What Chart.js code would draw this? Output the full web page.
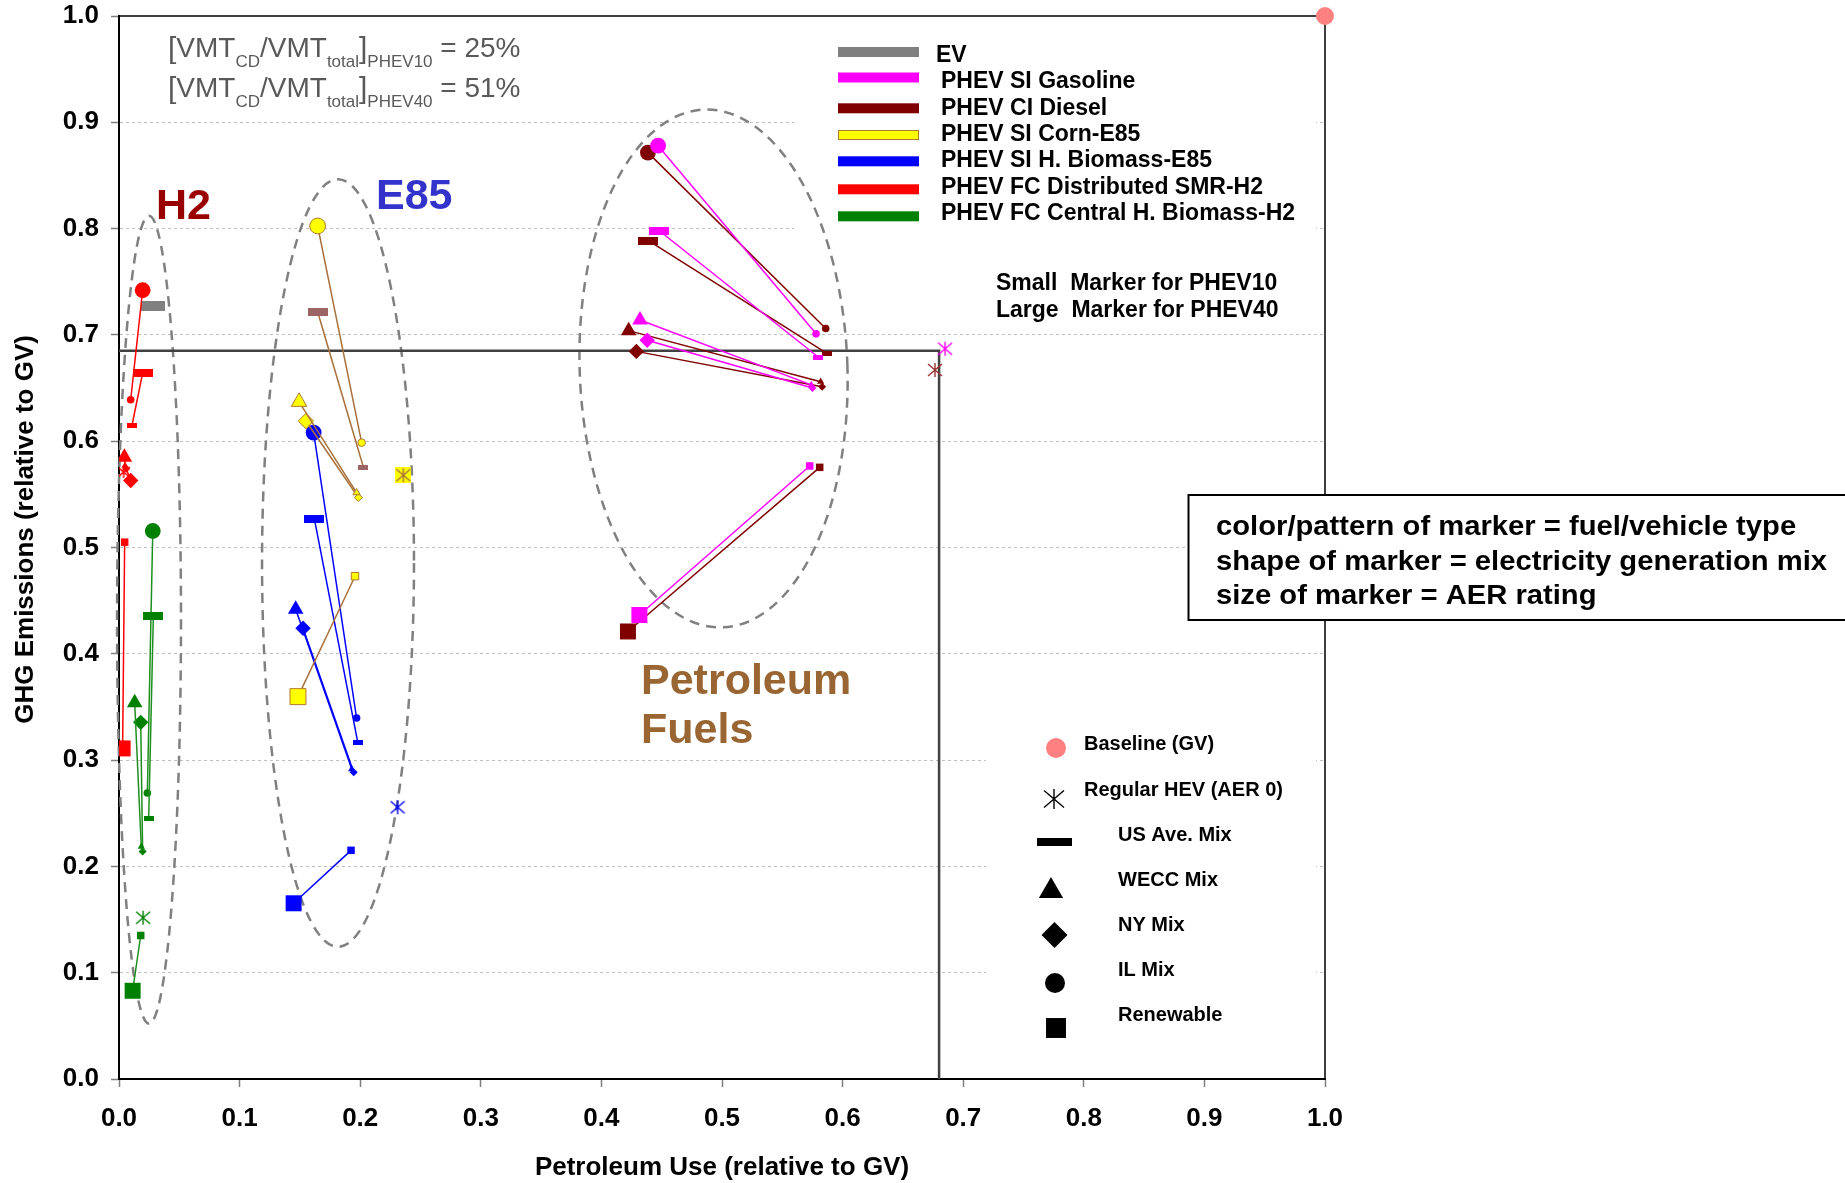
<!DOCTYPE html>
<html>
<head>
<meta charset="utf-8">
<script src="https://cdn.jsdelivr.net/npm/chart.js@4.4.1/dist/chart.umd.min.js"></script>
<style>
  html, body { margin: 0; padding: 0; background: #fff; }
  #wrap { width: 1845px; height: 1183px; position: relative; }
</style>
</head>
<body>
<div id="wrap"><canvas id="chart"></canvas></div>
<script>
const FONT = '"Liberation Sans", Arial, Helvetica, sans-serif';

// electricity generation mixes, same order in every array below
const mixes = ['US Ave. Mix', 'WECC Mix', 'NY Mix', 'IL Mix', 'Renewable'];

// petroleum use and GHG emissions (relative to GV); 40 = PHEV40 (large marker), 10 = PHEV10 (small marker)
const gasPet40 = [0.448, 0.432, 0.438, 0.447, 0.4315];
const gasGhg40 = [0.798, 0.714, 0.695, 0.878, 0.4365];
const gasPet10 = [0.580, 0.574, 0.575, 0.578, 0.5727];
const gasGhg10 = [0.679, 0.653, 0.650, 0.701, 0.5767];

const dslPet40 = [0.439, 0.4226, 0.429, 0.4386, 0.422];
const dslGhg40 = [0.7887, 0.704, 0.6845, 0.8715, 0.421];
const dslPet10 = [0.587, 0.5818, 0.583, 0.586, 0.581];
const dslGhg10 = [0.6827, 0.656, 0.6513, 0.706, 0.5754];

const cornPet40 = [0.1647, 0.1493, 0.155, 0.1647, 0.1484];
const cornGhg40 = [0.7218, 0.637, 0.619, 0.8025, 0.3597];
const cornPet10 = [0.2026, 0.197, 0.1985, 0.2012, 0.1957];
const cornGhg10 = [0.5757, 0.5516, 0.547, 0.5986, 0.473];

const bioPet40 = [0.162, 0.1465, 0.1526, 0.1614, 0.1448];
const bioGhg40 = [0.527, 0.442, 0.424, 0.608, 0.1653];
const bioPet10 = [0.198, 0.193, 0.1946, 0.197, 0.1924];
const bioGhg10 = [0.3167, 0.2916, 0.2885, 0.3396, 0.2151];

const smrPet40 = [0.0196, 0.0045, 0.0097, 0.0196, 0.003];
const smrGhg40 = [0.664, 0.585, 0.563, 0.742, 0.311];
const smrPet10 = [0.0108, 0.005, 0.006, 0.0097, 0.0047];
const smrGhg10 = [0.615, 0.577, 0.574, 0.639, 0.505];

const bh2Pet40 = [0.0285, 0.013, 0.018, 0.028, 0.0113];
const bh2Ghg40 = [0.436, 0.354, 0.3355, 0.5155, 0.083];
const bh2Pet10 = [0.0246, 0.0185, 0.0196, 0.0235, 0.018];
const bh2Ghg10 = [0.2446, 0.2186, 0.214, 0.269, 0.135];

// EV (US mix only is visible)
const evPet = [0.0285];
const evGhg = [0.727];

// regular HEV (AER 0): gasoline, diesel, corn-E85, biomass-E85, SMR-H2, biomass-H2
const hevPet = [0.685, 0.6766, 0.2358, 0.231, 0.0038, 0.020];
const hevGhg = [0.687, 0.667, 0.568, 0.2556, 0.571, 0.1517];

// baseline gasoline vehicle
const gvPet = [1.0];
const gvGhg = [1.0];

// gasoline HEV reference lines
const refPet = [0, 0.68, 0.68];
const refGhg = [0.685, 0.685, 0];

const ticks = [0, 0.1, 0.2, 0.3, 0.4, 0.5, 0.6, 0.7, 0.8, 0.9, 1.0];

// marker images
function bar(w, h, color) {
    const c = document.createElement('canvas');
    c.width = w; c.height = h;
    const g = c.getContext('2d');
    g.fillStyle = color;
    g.fillRect(0, 0, w, h);
    return c;
}
function asterisk(size, color, bg) {
    const c = document.createElement('canvas');
    c.width = size; c.height = size;
    const g = c.getContext('2d');
    if (bg) { g.fillStyle = bg; g.fillRect(0, 0, size, size); }
    g.strokeStyle = color;
    g.lineWidth = 1.4;
    const m = size / 2, r = size / 2 - 1;
    g.beginPath();
    g.moveTo(m, 1); g.lineTo(m, size - 1);
    g.moveTo(m - r, m - r * 0.85); g.lineTo(m + r, m + r * 0.85);
    g.moveTo(m - r, m + r * 0.85); g.lineTo(m + r, m - r * 0.85);
    g.stroke();
    return c;
}

const shapes = [null, 'triangle', 'rectRot', 'circle', 'rect'];
const bigR = [6, 9, 7.7, 7.9, 11.3];
const smallR = [3, 4.2, 4, 3.8, 5.3];

const fuels = [
    { name: 'PHEV SI Gasoline', pet40: gasPet40, ghg40: gasGhg40, pet10: gasPet10, ghg10: gasGhg10,
      fill: '#FF00FF', edge: '#FF00FF', line: '#FF00FF', bar: '#FF00FF', hev: asterisk(16, '#FF00FF') },
    { name: 'PHEV CI Diesel', pet40: dslPet40, ghg40: dslGhg40, pet10: dslPet10, ghg10: dslGhg10,
      fill: '#800000', edge: '#800000', line: '#800000', bar: '#800000', hev: asterisk(16, '#993333') },
    { name: 'PHEV SI Corn-E85', pet40: cornPet40, ghg40: cornGhg40, pet10: cornPet10, ghg10: cornGhg10,
      fill: '#FFFF00', edge: '#B07830', line: '#A8703A', bar: '#9C6464', hev: asterisk(16, '#A8703A', '#FFFF00') },
    { name: 'PHEV SI H. Biomass-E85', pet40: bioPet40, ghg40: bioGhg40, pet10: bioPet10, ghg10: bioGhg10,
      fill: '#0000FF', edge: '#0000FF', line: '#0000FF', bar: '#0000FF', hev: asterisk(16, '#0000FF') },
    { name: 'PHEV FC Distributed SMR-H2', pet40: smrPet40, ghg40: smrGhg40, pet10: smrPet10, ghg10: smrGhg10,
      fill: '#FF0000', edge: '#FF0000', line: '#FF0000', bar: '#FF0000', hev: asterisk(14, '#FF0000') },
    { name: 'PHEV FC Central H. Biomass-H2', pet40: bh2Pet40, ghg40: bh2Ghg40, pet10: bh2Pet10, ghg10: bh2Ghg10,
      fill: '#008000', edge: '#008000', line: '#1F8F1F', bar: '#008000', hev: asterisk(16, '#008000') }
];

const datasets = [];
datasets.push({
    label: 'HEV reference',
    data: refPet.map((p, i) => ({ x: p, y: refGhg[i] })),
    showLine: true, borderColor: '#404040', borderWidth: 2.5, pointRadius: 0, order: 5
});
fuels.forEach((f, k) => {
    mixes.forEach((m, i) => {
        datasets.push({
            label: f.name + ' ' + m,
            data: [{ x: f.pet40[i], y: f.ghg40[i] }, { x: f.pet10[i], y: f.ghg10[i] }],
            showLine: true,
            borderColor: f.line,
            borderWidth: 1.5,
            pointStyle: i === 0 ? [bar(20, 8, f.bar), bar(10, 5, f.bar)] : shapes[i],
            pointRadius: [bigR[i], smallR[i]],
            pointBackgroundColor: f.fill,
            pointBorderColor: f.edge,
            pointBorderWidth: f.edge === f.fill ? 0 : 1
        });
    });
    datasets.push({
        label: f.name + ' HEV',
        data: [{ x: hevPet[k], y: hevGhg[k] }],
        pointStyle: f.hev, pointRadius: 6
    });
});
datasets.push({
    label: 'EV',
    data: evPet.map((p, i) => ({ x: p, y: evGhg[i] })),
    pointStyle: bar(24, 10, '#808080'), pointRadius: 6
});
datasets.push({
    label: 'Baseline (GV)',
    data: gvPet.map((p, i) => ({ x: p, y: gvGhg[i] })),
    pointStyle: 'circle', pointRadius: 9, pointBackgroundColor: '#FF8080', pointBorderWidth: 0, clip: false
});

// dashed ellipses around the fuel groups (centre and radii in axis units)
const groupRings = [
    { x: 0.0249, y: 0.432, rx: 0.0265, ry: 0.380, rot: 0 },
    { x: 0.1816, y: 0.4854, rx: 0.063, ry: 0.361, rot: 0 },
    { x: 0.493, y: 0.6684, rx: 0.111, ry: 0.2437, rot: -2 }
];

const legendRows = [
    { label: 'EV', color: '#808080' },
    { label: 'PHEV SI Gasoline', color: '#FF00FF' },
    { label: 'PHEV CI Diesel', color: '#800000' },
    { label: 'PHEV SI Corn-E85', color: '#FFFF00', edge: '#B07830' },
    { label: 'PHEV SI H. Biomass-E85', color: '#0000FF' },
    { label: 'PHEV FC Distributed SMR-H2', color: '#FF0000' },
    { label: 'PHEV FC Central H. Biomass-H2', color: '#008000' }
];
const swatchY = [52, 77.5, 108.3, 135, 161.3, 189.3, 216.3];

function drawFormula(ctx, x, y, sub, value) {
    const parts = [['[', 30, 1], ['VMT', 28, 0], ['CD', 17, 10], ['/VMT', 28, 0], ['total', 17, 10],
                   [']', 30, 1], [sub, 17, 10], [' = ' + value, 28, 0]];
    let cx = x;
    parts.forEach(([t, size, dy]) => {
        ctx.font = size + 'px ' + FONT;
        ctx.fillText(t, cx, y + dy);
        cx += ctx.measureText(t).width;
    });
}

const decorations = {
    id: 'decorations',
    beforeDatasetsDraw(chart) {
        const { ctx, chartArea: a, scales: { x, y } } = chart;
        ctx.save();
        // legend panels cover the grid
        ctx.fillStyle = '#fff';
        ctx.fillRect(794, a.top + 2, 522, 312);
        ctx.fillRect(986, 700, 330, a.bottom - 702);
        // top and right frame
        ctx.strokeStyle = '#000';
        ctx.lineWidth = 1.5;
        ctx.beginPath();
        ctx.moveTo(a.left, a.top); ctx.lineTo(a.right, a.top); ctx.lineTo(a.right, a.bottom);
        ctx.stroke();
        // group rings
        ctx.setLineDash([10, 7]);
        ctx.strokeStyle = '#808080';
        ctx.lineWidth = 2.5;
        groupRings.forEach(g => {
            const cx = x.getPixelForValue(g.x), cy = y.getPixelForValue(g.y);
            const rx = x.getPixelForValue(g.x + g.rx) - cx;
            const ry = cy - y.getPixelForValue(g.y + g.ry);
            ctx.beginPath();
            ctx.ellipse(cx, cy, rx, ry, g.rot * Math.PI / 180, 0, 2 * Math.PI);
            ctx.stroke();
        });
        ctx.restore();
    },
    afterDraw(chart) {
        const ctx = chart.ctx;
        ctx.save();
        ctx.textBaseline = 'alphabetic';
        ctx.textAlign = 'left';

        // VMT share note
        ctx.fillStyle = '#595959';
        drawFormula(ctx, 168, 57, 'PHEV10', '25%');
        drawFormula(ctx, 168, 97, 'PHEV40', '51%');

        // group names
        ctx.font = 'bold 43px ' + FONT;
        ctx.fillStyle = '#990000';
        ctx.fillText('H2', 156, 219);
        ctx.fillStyle = '#3333CC';
        ctx.fillText('E85', 376, 209);
        ctx.fillStyle = '#996633';
        ctx.fillText('Petroleum', 641, 694);
        ctx.fillText('Fuels', 641, 743);

        // fuel legend
        ctx.font = 'bold 23px ' + FONT;
        legendRows.forEach((r, i) => {
            ctx.fillStyle = r.color;
            ctx.fillRect(838, swatchY[i] - 5, 81, 10);
            if (r.edge) {
                ctx.strokeStyle = r.edge; ctx.lineWidth = 1;
                ctx.strokeRect(838.5, swatchY[i] - 4.5, 80, 9);
            }
            ctx.fillStyle = '#000';
            ctx.fillText(r.label, i === 0 ? 936 : 941, 61.7 + i * 26.4);
        });
        ctx.fillText('Small  Marker for PHEV10', 996, 290);
        ctx.fillText('Large  Marker for PHEV40', 996, 317);

        // marker legend
        const H = Chart.helpers;
        ctx.font = 'bold 20px ' + FONT;
        ctx.fillStyle = '#FF8080';
        H.drawPoint(ctx, { pointStyle: 'circle', radius: 10, borderWidth: 0 }, 1056, 748);
        ctx.drawImage(asterisk(22, '#000'), 1043, 788);
        ctx.fillStyle = '#000';
        ctx.fillRect(1037, 838, 35, 8);
        H.drawPoint(ctx, { pointStyle: 'triangle', radius: 14, borderWidth: 0 }, 1051, 891);
        H.drawPoint(ctx, { pointStyle: 'rectRot', radius: 13, borderWidth: 0 }, 1054.5, 935);
        H.drawPoint(ctx, { pointStyle: 'circle', radius: 10, borderWidth: 0 }, 1055, 983);
        H.drawPoint(ctx, { pointStyle: 'rect', radius: 14.1, borderWidth: 0 }, 1056, 1028);
        ctx.fillText('Baseline (GV)', 1084, 750);
        ctx.fillText('Regular HEV (AER 0)', 1084, 796);
        ['US Ave. Mix', 'WECC Mix', 'NY Mix', 'IL Mix', 'Renewable'].forEach((t, i) => {
            ctx.fillText(t, 1118, 841 + i * 45);
        });

        // explanation box (white, hides the frame behind it)
        ctx.fillStyle = '#fff';
        ctx.fillRect(1188.5, 495, 700, 125);
        ctx.strokeStyle = '#000';
        ctx.lineWidth = 2;
        ctx.strokeRect(1188.5, 495, 700, 125);
        ctx.fillStyle = '#000';
        ctx.font = 'bold 27px ' + FONT;
        const lines = ['color/pattern of marker = fuel/vehicle type',
                       'shape of marker = electricity generation mix',
                       'size of marker = AER rating'];
        const sx = 611 / ctx.measureText(lines[1]).width;
        lines.forEach((t, i) => {
            ctx.save();
            ctx.translate(1216, [535, 570, 604][i]);
            ctx.scale(sx, 1);
            ctx.fillText(t, 0, 0);
            ctx.restore();
        });
        ctx.restore();
    }
};

Chart.defaults.font.family = FONT;
Chart.defaults.color = '#000';

new Chart(document.getElementById('chart'), {
    type: 'scatter',
    data: { datasets },
    options: {
        responsive: true,
        maintainAspectRatio: false,
        animation: false,
        layout: { padding: { top: 16, right: 520, left: 0, bottom: 0 } },
        plugins: { legend: { display: false }, tooltip: { enabled: false } },
        scales: {
            x: {
                type: 'linear', min: 0, max: 1,
                afterFit: s => { s.height = 104; },
                afterBuildTicks: s => { s.ticks = ticks.map(v => ({ value: v })); },
                ticks: { padding: 16, font: { size: 26, weight: 'bold' }, color: '#000', callback: v => v.toFixed(1) },
                grid: { drawOnChartArea: false, tickLength: 8, tickColor: '#7F7F7F', tickWidth: 1.5 },
                border: { color: '#000', width: 2 },
                title: { display: true, text: 'Petroleum Use (relative to GV)', font: { size: 26, weight: 'bold' },
                         color: '#000', padding: { top: 0, bottom: 0 } }
            },
            y: {
                type: 'linear', min: 0, max: 1,
                afterFit: s => { s.width = 119; s.paddingTop = 0; s.paddingBottom = 0; },
                afterBuildTicks: s => { s.ticks = ticks.map(v => ({ value: v })); },
                ticks: { padding: 12, font: { size: 26, weight: 'bold' }, color: '#000', callback: v => v.toFixed(1) },
                grid: {
                    color: c => (c.tick && (c.tick.value === 0 || c.tick.value === 1)) ? 'rgba(0,0,0,0)' : '#BFBFBF',
                    lineWidth: 1, tickLength: 8, tickColor: '#7F7F7F', tickWidth: 1.5
                },
                border: { color: '#000', width: 2, dash: [3, 3] },
                // leading spaces lift the rotated title to where the reference has it
                title: { display: true, text: '     GHG Emissions (relative to GV)', font: { size: 26, weight: 'bold' },
                         color: '#000', padding: { top: 10, bottom: 0 } }
            }
        }
    },
    plugins: [decorations]
});
</script>
</body>
</html>
